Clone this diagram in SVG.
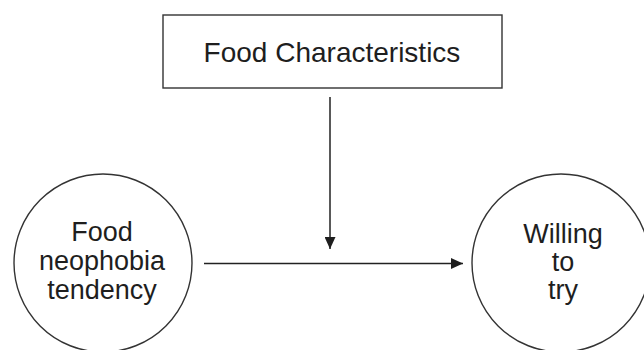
<svg xmlns="http://www.w3.org/2000/svg" width="644" height="350" viewBox="0 0 644 350">
<defs>
<style>
.shape{fill:#fff;stroke:#333;stroke-width:1.4}
.lbl{font-family:"Liberation Sans",Arial,sans-serif;fill:#1e1e1e;text-anchor:middle}
.edge{stroke:#222;stroke-width:1.5;fill:none}
</style>
<marker id="ah" viewBox="0 0 12 11" refX="12" refY="5.5" markerWidth="12" markerHeight="11" markerUnits="userSpaceOnUse" orient="auto">
<path d="M0,0 L12,5.5 L0,11 Z" fill="#1e1e1e"/>
</marker>
</defs>
<rect width="644" height="350" fill="#fff"/>
<g id="food-characteristics">
<rect class="shape" x="163" y="15" width="339" height="73"/>
<text class="lbl" x="332" y="62" font-size="28">Food Characteristics</text>
</g>
<g id="food-neophobia">
<circle class="shape" cx="103" cy="263" r="89"/>
<text class="lbl" font-size="27"><tspan x="102" y="241">Food</tspan><tspan x="102" y="270">neophobia</tspan><tspan x="102" y="299">tendency</tspan></text>
</g>
<g id="willing-to-try">
<circle class="shape" cx="561" cy="263" r="89"/>
<text class="lbl" font-size="27"><tspan x="563" y="243">Willing</tspan><tspan x="563" y="271">to</tspan><tspan x="563" y="299">try</tspan></text>
</g>
<g id="connectors">
<line class="edge" x1="330" y1="97" x2="330" y2="249" marker-end="url(#ah)"/>
<line class="edge" x1="204" y1="263.5" x2="463" y2="263.5" marker-end="url(#ah)"/>
</g>
</svg>
